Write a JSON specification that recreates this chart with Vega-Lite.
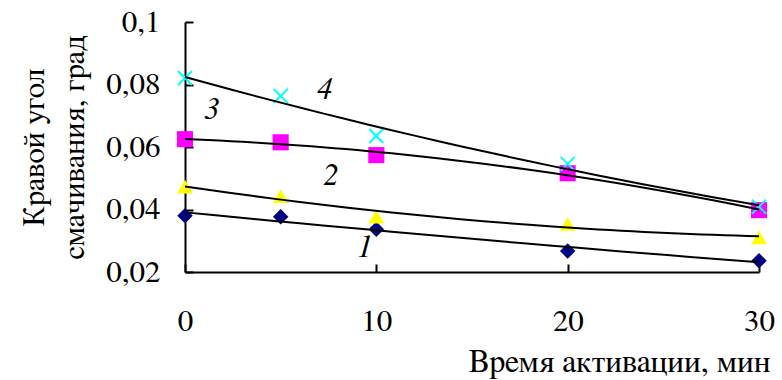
{
  "$schema": "https://vega.github.io/schema/vega-lite/v6.json",
  "width": 574,
  "height": 250,
  "autosize": {"type": "none"},
  "padding": {"left": 185, "top": 22, "right": 23, "bottom": 108},
  "background": "white",
  "datasets": {
    "pts": [
      {"t": 0, "angle": 0.0380, "series": "1"},
      {"t": 5, "angle": 0.0377, "series": "1"},
      {"t": 10, "angle": 0.0337, "series": "1"},
      {"t": 20, "angle": 0.0267, "series": "1"},
      {"t": 30, "angle": 0.0236, "series": "1"},
      {"t": 0, "angle": 0.0473, "series": "2"},
      {"t": 5, "angle": 0.0443, "series": "2"},
      {"t": 10, "angle": 0.0377, "series": "2"},
      {"t": 20, "angle": 0.0354, "series": "2"},
      {"t": 30, "angle": 0.0311, "series": "2"},
      {"t": 0, "angle": 0.0625, "series": "3"},
      {"t": 5, "angle": 0.0615, "series": "3"},
      {"t": 10, "angle": 0.0574, "series": "3"},
      {"t": 20, "angle": 0.0516, "series": "3"},
      {"t": 30, "angle": 0.0398, "series": "3"},
      {"t": 0, "angle": 0.0821, "series": "4"},
      {"t": 5, "angle": 0.0763, "series": "4"},
      {"t": 10, "angle": 0.0635, "series": "4"},
      {"t": 20, "angle": 0.0546, "series": "4"},
      {"t": 30, "angle": 0.0409, "series": "4"}
    ],
    "lbl": [
      {"t": 9.41, "angle": 0.0277, "label": "1"},
      {"t": 7.63, "angle": 0.0507, "label": "2"},
      {"t": 1.41, "angle": 0.0718, "label": "3"},
      {"t": 7.32, "angle": 0.0782, "label": "4"}
    ]
  },
  "config": {
    "view": {"stroke": null},
    "font": "FreeSerif, Liberation Serif, serif",
    "axis": {
      "grid": false,
      "domainColor": "black",
      "domainWidth": 2,
      "tickColor": "black",
      "tickWidth": 2,
      "tickSize": -8,
      "labelColor": "black",
      "labelFont": "FreeSerif, Liberation Serif, serif",
      "labelFontSize": 31,
      "titleFont": "FreeSerif, Liberation Serif, serif",
      "titleFontSize": 31,
      "titleFontWeight": "normal",
      "titleColor": "black"
    }
  },
  "encoding": {
    "x": {
      "field": "t",
      "type": "quantitative",
      "scale": {"domain": [0, 30], "nice": false, "zero": false},
      "axis": {
        "values": [0, 10, 20, 30],
        "labelPadding": 42,
        "labelFlush": false,
        "title": "Время активации, мин",
        "titleFontSize": 32,
        "titleX": 585,
        "titleY": 99,
        "titleAlign": "right",
        "titleBaseline": "alphabetic"
      }
    },
    "y": {
      "field": "angle",
      "type": "quantitative",
      "scale": {"domain": [0.02, 0.1], "nice": false, "zero": false},
      "axis": {
        "values": [0.02, 0.04, 0.06, 0.08, 0.1],
        "labelExpr": "replace(format(datum.value, '.2~f'), '.', ',')",
        "labelPadding": 33,
        "labelFlush": false,
        "labelBaseline": "middle",
        "title": ["Кравой угол", "смачивания, град"],
        "titleAngle": -90,
        "titleX": -142,
        "titleY": 125,
        "titleAlign": "center",
        "titleBaseline": "alphabetic",
        "titleLineHeight": 40
      }
    }
  },
  "layer": [
    {
      "data": {"name": "pts"},
      "transform": [{"filter": "datum.series != '4'"}],
      "mark": {"type": "point", "filled": true, "opacity": 1},
      "encoding": {
        "color": {
          "field": "series",
          "type": "nominal",
          "scale": {"domain": ["1", "2", "3"], "range": ["#000080", "#FFFF00", "#FF00FF"]},
          "legend": null
        },
        "shape": {
          "field": "series",
          "type": "nominal",
          "scale": {"domain": ["1", "2", "3"], "range": ["diamond", "triangle-up", "square"]},
          "legend": null
        },
        "size": {
          "field": "series",
          "type": "nominal",
          "scale": {"domain": ["1", "2", "3"], "range": [240, 260, 210]},
          "legend": null
        }
      }
    },
    {
      "data": {"name": "pts"},
      "transform": [{"filter": "datum.series == '4'"}],
      "mark": {
        "type": "point",
        "filled": false,
        "shape": "M-1,-1L1,1M1,-1L-1,1",
        "size": 196,
        "strokeWidth": 2,
        "color": "#00FFFF",
        "opacity": 1
      }
    },
    {
      "data": {"name": "pts"},
      "transform": [
        {"regression": "angle", "on": "t", "groupby": ["series"], "method": "poly", "order": 2, "extent": [0, 30]}
      ],
      "mark": {"type": "line", "color": "black", "strokeWidth": 2},
      "encoding": {"detail": {"field": "series", "type": "nominal"}}
    },
    {
      "data": {"name": "lbl"},
      "mark": {
        "type": "text",
        "font": "FreeSerif, Liberation Serif, serif",
        "fontSize": 31,
        "fontStyle": "italic",
        "align": "center",
        "baseline": "middle",
        "color": "black"
      },
      "encoding": {"text": {"field": "label", "type": "nominal"}}
    }
  ]
}
